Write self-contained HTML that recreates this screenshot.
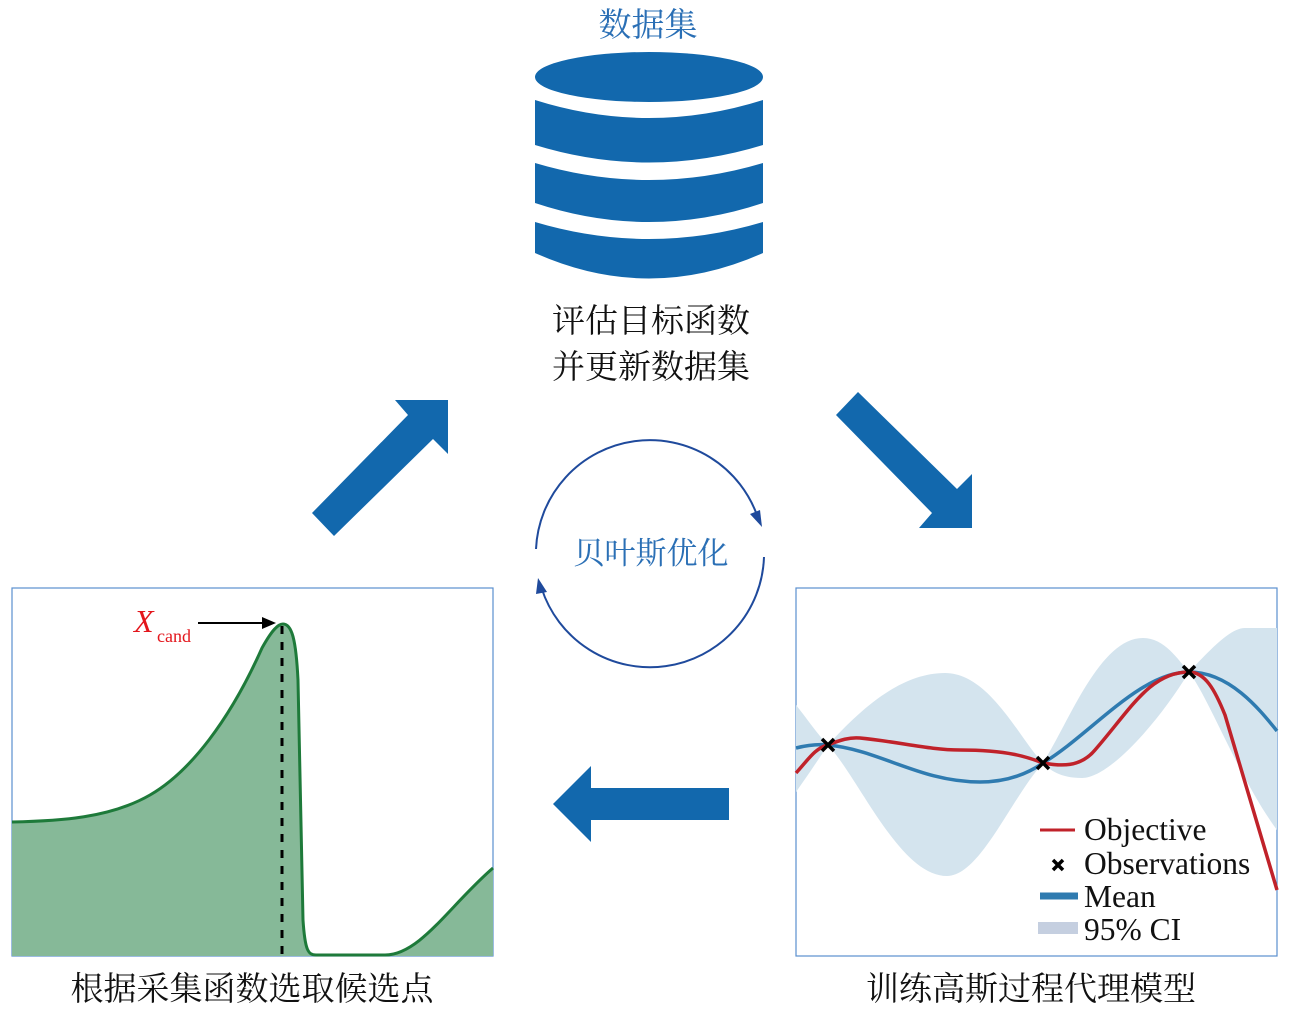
<!DOCTYPE html>
<html><head><meta charset="utf-8"><style>
html,body{margin:0;padding:0;background:#fff;}
svg{display:block;}
.cn{font-family:"Liberation Serif","Noto Serif CJK SC",serif;}
</style></head><body>
<svg width="1299" height="1013" viewBox="0 0 1299 1013" xmlns="http://www.w3.org/2000/svg">
<g fill="#1268ad">
<ellipse cx="649" cy="77" rx="114" ry="25"/>
<path d="M535,100 Q649,136 763,100 L763,145 Q649,180 535,145 Z"/>
<path d="M535,163 Q649,197 763,163 L763,203 Q649,241 535,203 Z"/>
<path d="M535,222 Q649,256 763,222 L763,253 Q649,304 535,253 Z"/>
<polygon points="395,400 408,415 312,513 334,536 433,439 448,454 448,400"/>
<polygon points="919,528 932,513 836,415 858,392 957,489 972,474 972,528"/>
<polygon points="553,804 591,766 591,788 729,788 729,820 591,820 591,842"/>
</g>
<text x="648" y="36" class="cn" font-size="33" fill="#2a6fb5" text-anchor="middle">数据集</text>
<text x="651" y="332" class="cn" font-size="33" fill="#111" text-anchor="middle">评估目标函数</text>
<text x="651" y="378" class="cn" font-size="33" fill="#111" text-anchor="middle">并更新数据集</text>
<g fill="none" stroke="#1f4a9c" stroke-width="2">
<path d="M536,549 A114,114 0 0 1 758,518"/>
<path d="M764,557 A114,114 0 0 1 541.5,588"/>
</g>
<polygon points="762,527 750,514 760,510" fill="#1f4a9c"/>
<polygon points="538,578 547,592 536,594" fill="#1f4a9c"/>
<text x="651" y="564" class="cn" font-size="31" fill="#2a6fb5" text-anchor="middle">贝叶斯优化</text>
<rect x="12" y="588" width="481" height="368" fill="#fff" stroke="#5b8fcf" stroke-width="1.2"/>
<path d="M12,822 C60,821 110,818 150,795 C190,772 230,720 262,648 C272,630 278,624 283,624 C292,624 296,640 298,680 L303,920 C305,950 308,955 316,955 L385,955 C420,955 450,905 493,868 L493,956 L12,956 Z" fill="#86b998"/>
<path d="M12,822 C60,821 110,818 150,795 C190,772 230,720 262,648 C272,630 278,624 283,624 C292,624 296,640 298,680 L303,920 C305,950 308,955 316,955 L385,955 C420,955 450,905 493,868" fill="none" stroke="#1e7a3a" stroke-width="3"/>
<line x1="282" y1="626" x2="282" y2="956" stroke="#000" stroke-width="3" stroke-dasharray="8,8"/>
<line x1="198" y1="623" x2="266" y2="623" stroke="#000" stroke-width="2"/>
<polygon points="276,623 262,617 262,629" fill="#000"/>
<text x="134" y="632" font-family="Liberation Serif" font-style="italic" font-size="32" fill="#e3161c">X</text>
<text x="157" y="642" font-family="Liberation Serif" font-size="18" fill="#e3161c">cand</text>
<text x="252" y="1000" class="cn" font-size="33" fill="#111" text-anchor="middle">根据采集函数选取候选点</text>
<rect x="796" y="588" width="481" height="368" fill="#fff" stroke="#5b8fcf" stroke-width="1.2"/>
<path d="M796,705 C808,720 818,735 828,745 C860,710 900,673 945,673 C990,673 1020,740 1043,763 C1070,720 1100,638 1143,638 C1165,638 1178,660 1189,672 C1210,650 1230,628 1245,628 L1277,628 L1277,830 C1240,780 1210,700 1189,672 C1160,720 1110,778 1082,778 C1060,778 1050,770 1043,763 C1010,800 980,876 947,876 C900,876 860,780 828,745 C818,760 808,775 796,792 Z" fill="#d4e4ee"/>
<path d="M796,748 C808,745 818,744 828,745 C880,750 920,782 980,782 C1010,782 1030,772 1043,763 C1090,735 1140,672 1189,672 C1230,672 1260,710 1277,731" fill="none" stroke="#2f7bb0" stroke-width="3.5"/>
<path d="M796,773 C808,760 815,748 828,745 C840,740 850,737 860,738 C900,742 930,750 960,750 C1010,750 1030,758 1043,763 C1060,766 1080,768 1095,750 C1130,710 1150,672 1189,672 C1205,672 1215,690 1225,715 L1277,890" fill="none" stroke="#c0222a" stroke-width="3.5"/>
<g stroke="#000" stroke-width="3.5">
<path d="M822,739 L834,751 M834,739 L822,751"/>
<path d="M1037,757 L1049,769 M1049,757 L1037,769"/>
<path d="M1183,666 L1195,678 M1195,666 L1183,678"/>
<path d="M1053,860 L1063,870 M1063,860 L1053,870"/>
</g>
<line x1="1040" y1="830" x2="1075" y2="830" stroke="#c0222a" stroke-width="3"/>
<line x1="1040" y1="896" x2="1078" y2="896" stroke="#2f7bb0" stroke-width="7"/>
<rect x="1038" y="922" width="40" height="12" fill="#c5cfe0"/>
<g font-family="Liberation Serif" font-size="31.5" fill="#111">
<text x="1084" y="840">Objective</text>
<text x="1084" y="874">Observations</text>
<text x="1084" y="907">Mean</text>
<text x="1084" y="940">95% CI</text>
</g>
<text x="1031" y="1000" class="cn" font-size="33" fill="#111" text-anchor="middle">训练高斯过程代理模型</text>
</svg>
</body></html>
